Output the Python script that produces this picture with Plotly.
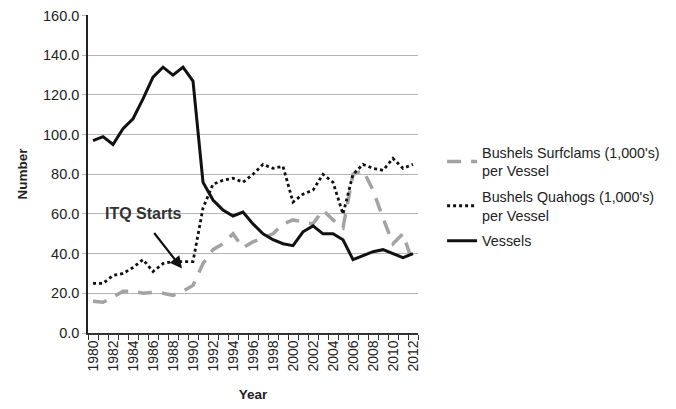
import plotly.graph_objects as go

years = list(range(1980, 2013))
surfclams = [16, 15.5, 18, 21, 21, 20, 20.5, 20, 19, 21, 24, 35, 42, 45, 50, 43, 46, 48, 50, 55, 57,
             56, 55, 62, 57, 53, 80, 82, 72, 58, 45, 50, 35]
quahogs = [25, 25, 29, 30, 33, 37, 31, 35, 36, 36, 36, 63, 75, 77, 78, 76, 80, 85, 83, 84, 66,
           70, 72, 80, 76, 60, 80, 85, 83, 82, 88, 83, 85]
vessels = [97, 99, 95, 103, 108, 118, 129, 134, 130, 134, 127, 76, 67, 62, 59, 61, 55, 50, 47, 45, 44,
           51, 54, 50, 50, 47, 37, 39, 41, 42, 40, 38, 40]
tick_years = list(range(1980, 2013, 2))
y_ticks = [0, 20, 40, 60, 80, 100, 120, 140, 160]

FONT = "Liberation Sans, Arial"

fig = go.Figure()
fig.add_trace(go.Scatter(x=years, y=surfclams, mode="lines", legendgroup="a",
                         name="Bushels Surfclams (1,000's)<br>per Vessel",
                         line=dict(color="#a3a3a3", width=3.5, dash="14px,10px")))
fig.add_trace(go.Scatter(x=years, y=quahogs, mode="lines", legendgroup="b",
                         name="Bushels Quahogs (1,000's)<br>per Vessel",
                         line=dict(color="#111111", width=2.8, dash="dot")))
fig.add_trace(go.Scatter(x=years, y=vessels, mode="lines", name="Vessels", legendgroup="c",
                         line=dict(color="#111111", width=3)))

fig.add_annotation(x=1988.9, y=32.5, xref="x", yref="y", ax=-29, ay=-37,
                   text="", showarrow=True, arrowhead=2, arrowsize=1.1, arrowwidth=2.2, arrowcolor="#111111")
fig.add_annotation(x=1985, y=60, xref="x", yref="y", text="<b>ITQ Starts</b>", showarrow=False,
                   font=dict(size=16, color="#333333", family=FONT),
                   yanchor="middle", yshift=0)

fig.update_layout(
    width=676, height=409,
    margin=dict(l=80, r=266, t=7, b=84),
    paper_bgcolor="white", plot_bgcolor="white",
    font=dict(family=FONT, size=14, color="#222222"),
    showlegend=True,
    legend=dict(x=1.073, xanchor="left", y=0.618, yanchor="top",
                font=dict(size=14.3, color="#222222"), tracegroupgap=4,
                bgcolor="rgba(0,0,0,0)"),
    xaxis=dict(range=[1979.5, 2012.5], tickvals=tick_years, ticktext=[str(y) for y in tick_years],
               tickangle=-90, ticklen=0, showgrid=False, zeroline=False, automargin=False,
               ticklabeloverflow="allow",
               showline=True, linecolor="#333333", linewidth=1.5,
               tickfont=dict(size=14, color="#222222"),
               minor=dict(tick0=1979.5, dtick=1, ticks="outside", ticklen=5, tickcolor="#333333",
                          showgrid=False),
               title=dict(text="<b>Year</b>", font=dict(size=13.5, color="#222222"), standoff=19)),
    yaxis=dict(range=[0, 160.3], tickvals=y_ticks, ticktext=[f"{v:.1f}" for v in y_ticks],
               showgrid=True, gridcolor="#b5b5b5", gridwidth=1, zeroline=False, automargin=False,
               ticklabeloverflow="allow",
               showline=True, linecolor="#222222", linewidth=1.5,
               ticks="outside", ticklen=4, tickcolor="#b5b5b5",
               tickfont=dict(size=14.5, color="#222222"),
               title=dict(text="<b>Number</b>", font=dict(size=13.5, color="#222222"), standoff=12)),
)

fig.write_html("out.html")
